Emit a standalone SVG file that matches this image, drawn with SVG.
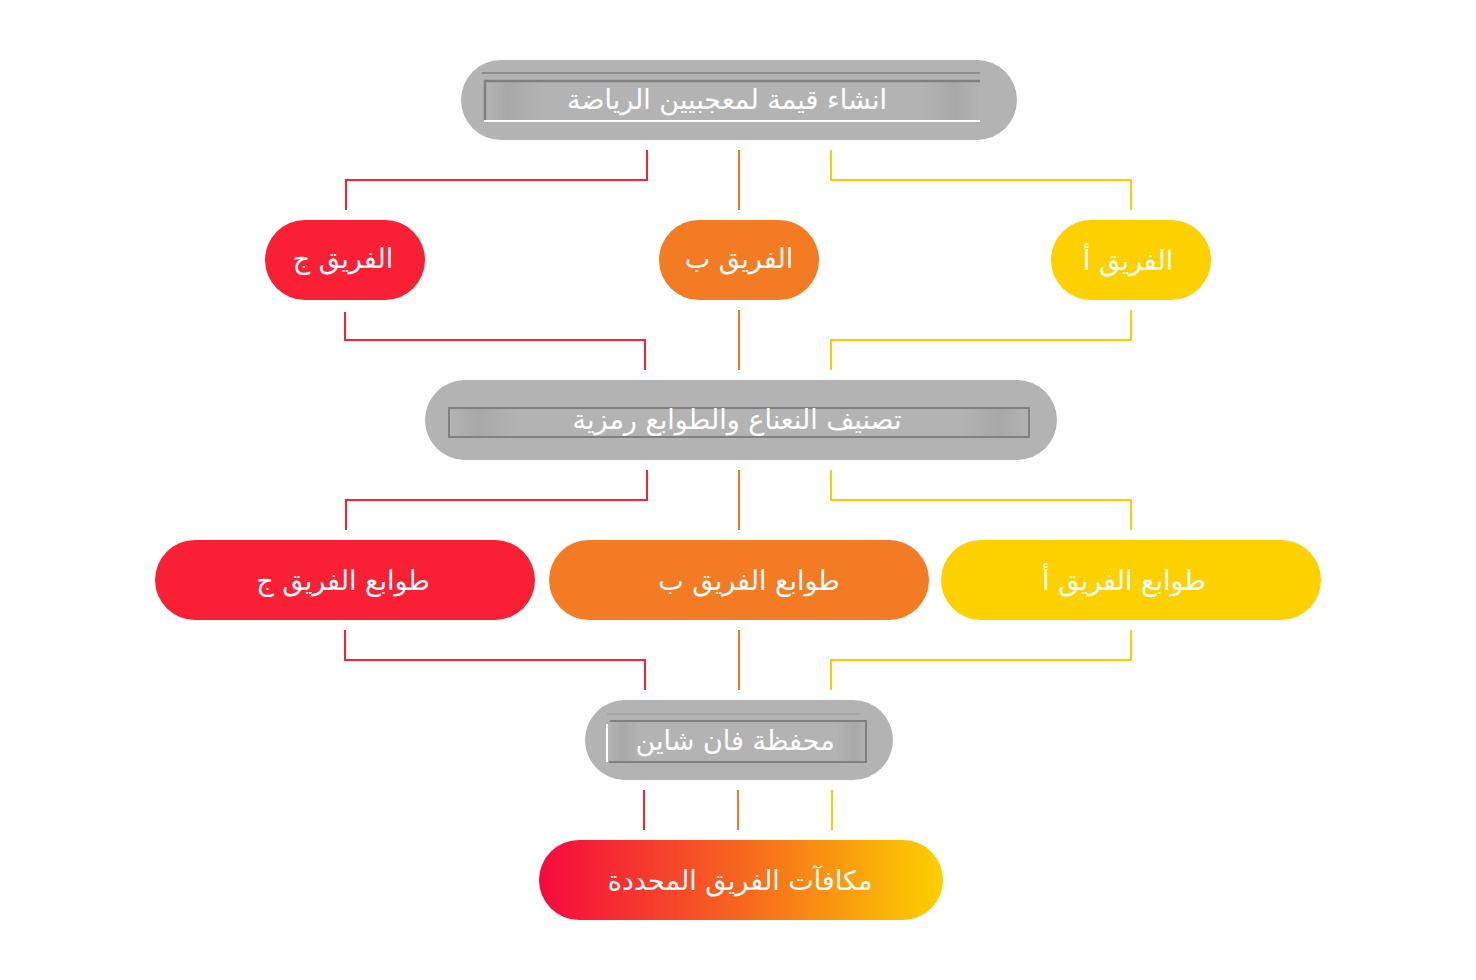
<svg xmlns="http://www.w3.org/2000/svg" width="1476" height="980" viewBox="0 0 1476 980">
<defs>
<linearGradient id="gradReward" x1="0" y1="0" x2="1" y2="0">
<stop offset="0" stop-color="#F5093F"/>
<stop offset="0.5" stop-color="#F7661F"/>
<stop offset="1" stop-color="#FDD000"/>
</linearGradient>
<linearGradient id="gradBar" x1="0" y1="0" x2="1" y2="0">
<stop offset="0" stop-color="#b3b3b3"/>
<stop offset="0.05" stop-color="#a8a8a8"/>
<stop offset="0.12" stop-color="#b3b3b3"/>
<stop offset="0.88" stop-color="#b3b3b3"/>
<stop offset="0.95" stop-color="#a8a8a8"/>
<stop offset="1" stop-color="#b3b3b3"/>
</linearGradient>
</defs>
<style>
.gray{fill:#b3b3b3}
.red{fill:#F91F35}
.orange{fill:#F27B24}
.yellow{fill:#FDD000}
.lbl{font-family:"DejaVu Sans","Noto Sans",sans-serif;font-size:27px;fill:#ffffff;text-anchor:middle;dominant-baseline:central}
.cr{stroke:#F52236;stroke-width:2;fill:none}
.co{stroke:#F07A22;stroke-width:2;fill:none}
.cy{stroke:#FDCB00;stroke-width:2;fill:none}
.dark{stroke:#808080;fill:none}
.wline{stroke:#ffffff;fill:none}
</style>
<rect width="1476" height="980" fill="#ffffff"/>
<g id="connectors">
<polyline class="cr" points="647,150 647,180 346,180 346,210"/>
<line class="co" x1="739" y1="150" x2="739" y2="210"/>
<polyline class="cy" points="831,150 831,180 1131,180 1131,210"/>
<polyline class="cr" points="345,312 345,340 645,340 645,370"/>
<line class="co" x1="739" y1="310" x2="739" y2="370"/>
<polyline class="cy" points="1131,310 1131,340 831,340 831,370"/>
<polyline class="cr" points="647,470 647,500 346,500 346,530"/>
<line class="co" x1="739" y1="470" x2="739" y2="530"/>
<polyline class="cy" points="831,470 831,500 1131,500 1131,530"/>
<polyline class="cr" points="345,630 345,660 645,660 645,690"/>
<line class="co" x1="739" y1="630" x2="739" y2="690"/>
<polyline class="cy" points="1131,630 1131,660 831,660 831,690"/>
<line class="cr" x1="644" y1="790" x2="644" y2="830"/>
<line class="co" x1="738" y1="790" x2="738" y2="830"/>
<line class="cy" x1="832" y1="790" x2="832" y2="830"/>
</g>
<g id="node-create">
<rect class="gray" x="461" y="60" width="556" height="80" rx="40"/>
<line class="dark" x1="482" y1="73" x2="980" y2="73" stroke-width="1.5"/>
<rect x="484" y="80" width="496" height="41" fill="url(#gradBar)"/>
<polyline class="dark" points="485,121 485,81 980,81" stroke-width="2.5"/>
<line class="wline" x1="484" y1="121" x2="980" y2="121" stroke-width="2"/>
<text class="lbl" x="727" y="99">انشاء قيمة لمعجبيين الرياضة</text>
</g>
<g id="node-team-c">
<rect class="red" x="265" y="220" width="160" height="80" rx="40"/>
<text class="lbl" x="343" y="258">الفريق ج</text>
</g>
<g id="node-team-b">
<rect class="orange" x="659" y="220" width="160" height="80" rx="40"/>
<text class="lbl" x="739" y="258">الفريق ب</text>
</g>
<g id="node-team-a">
<rect class="yellow" x="1051" y="220" width="160" height="80" rx="40"/>
<text class="lbl" x="1128" y="260">الفريق أ</text>
</g>
<g id="node-classify">
<rect class="gray" x="425" y="380" width="632" height="80" rx="40"/>
<rect x="449" y="408" width="580" height="29" fill="url(#gradBar)"/>
<rect class="dark" x="449" y="408" width="580" height="29" stroke-width="2"/>
<text class="lbl" x="737" y="419">تصنيف النعناع والطوابع رمزية</text>
</g>
<g id="node-stamps-c">
<rect class="red" x="155" y="540" width="380" height="80" rx="40"/>
<text class="lbl" x="343" y="580">طوابع الفريق ج</text>
</g>
<g id="node-stamps-b">
<rect class="orange" x="549" y="540" width="380" height="80" rx="40"/>
<text class="lbl" x="749" y="580">طوابع الفريق ب</text>
</g>
<g id="node-stamps-a">
<rect class="yellow" x="941" y="540" width="380" height="80" rx="40"/>
<text class="lbl" x="1124" y="580">طوابع الفريق أ</text>
</g>
<g id="node-wallet">
<rect class="gray" x="585" y="700" width="308" height="80" rx="40"/>
<line class="dark" x1="607" y1="714" x2="860" y2="714" stroke-width="1" opacity="0.4"/>
<rect x="609" y="720" width="258" height="42" fill="url(#gradBar)"/>
<polyline class="dark" points="610,721 866,721 866,762 609,762" stroke-width="2"/>
<line class="wline" x1="607" y1="724" x2="607" y2="762" stroke-width="2"/>
<text class="lbl" x="735" y="740">محفظة فان شاين</text>
</g>
<g id="node-rewards">
<rect x="539" y="840" width="404" height="80" rx="40" fill="url(#gradReward)"/>
<text class="lbl" x="740" y="880">مكافآت الفريق المحددة</text>
</g>
</svg>
